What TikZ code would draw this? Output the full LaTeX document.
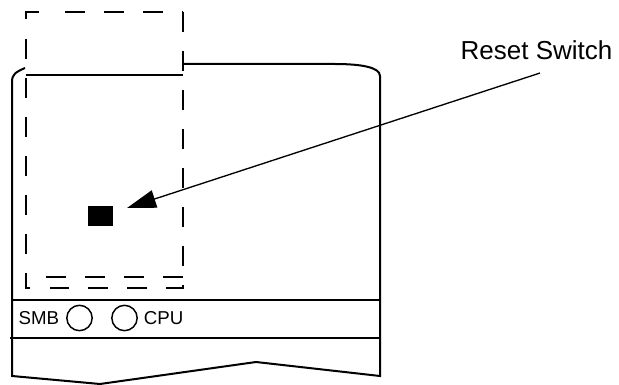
\documentclass[tikz,border=0pt]{standalone}
\usepackage{fontspec}
\setmainfont{Liberation Sans}
\usetikzlibrary{arrows.meta}
\usetikzlibrary{positioning}
\tikzset{
  outline/.style={line width=1.5pt},
  guard/.style={line width=1.4pt, dash pattern=on 15pt off 14.25pt},
  lamp/.style={draw, circle, line width=1.1pt, minimum size=19pt, inner sep=0pt},
  lamplabel/.style={inner sep=0pt, font=\fontsize{14}{14}\selectfont}
}
\begin{document}
\begin{tikzpicture}[x=0.75pt, y=-0.75pt]
  \useasboundingbox (0,0) rectangle (619,385);
  % housing
  \draw[outline] (183,64) -- (335,64) .. controls (360,64) and (380,67) .. (380,76) -- (380,376)
    -- (256,362) -- (100,384) -- (12,376) -- (12,82) .. controls (12,74) and (16,72) .. (25,68);
  \draw[outline] (26,75) -- (183,75);
  \draw[outline] (12,300) -- (381,300);
  \draw[outline] (10,338) -- (381,338);
  % dashed outline
  \draw[guard] (26,19) -- (26,12) -- (45,12);
  \draw[guard] (65,12) -- (183,12);
  \draw[guard] (183,12) -- (183,288) -- (50,288);
  \draw[guard] (26,39) -- (26,288) -- (30,288);
  \draw[guard] (183,277) -- (45,277);
  % switch and lamps
  \node[fill=black, minimum width=18.75pt, minimum height=15pt, inner sep=0pt] (switch) at (100.5,216) {};
  \node[lamp] (smb) at (79.5,318) {};
  \node[lamp] (cpu) at (124.5,318) {};
  \node[lamplabel, left=5pt of smb] (smblabel) {SMB};
  \node[lamplabel, right=4.25pt of cpu] (cpulabel) {CPU};
  \node[inner sep=0pt, outer sep=9.75pt, font=\fontsize{19.5}{19.5}\selectfont] (resetlabel) at (536.5,50.5) {Reset Switch};
  \coordinate (switchtip) at (127,208);
  \draw[line width=1pt, -{Triangle[length=21.75pt, width=13.5pt]}] ([xshift=2.6pt]resetlabel.south) -- (switchtip);
\end{tikzpicture}
\end{document}
